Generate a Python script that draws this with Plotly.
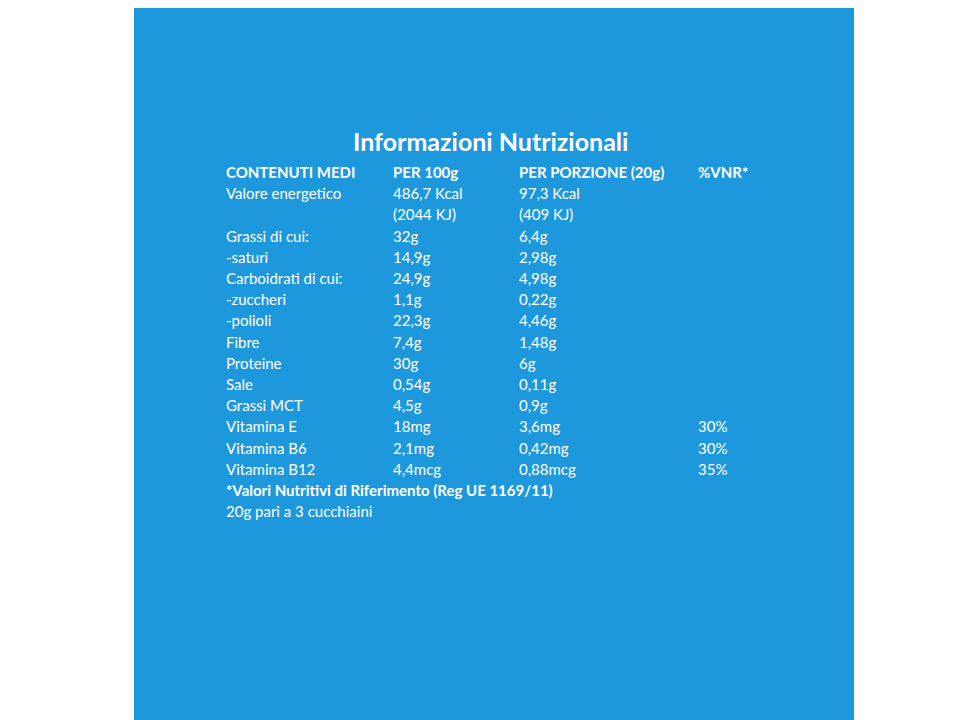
import plotly.graph_objects as go

title = "Informazioni Nutrizionali"
header = ["CONTENUTI MEDI", "PER 100g", "PER PORZIONE (20g)", "%VNR*"]
nutrients = ["Valore energetico", "", "Grassi di cui:", "-saturi", "Carboidrati di cui:", "-zuccheri",
             "-polioli", "Fibre", "Proteine", "Sale", "Grassi MCT", "Vitamina E", "Vitamina B6", "Vitamina B12"]
per100 = ["486,7 Kcal", "(2044 KJ)", "32g", "14,9g", "24,9g", "1,1g", "22,3g", "7,4g", "30g", "0,54g",
          "4,5g", "18mg", "2,1mg", "4,4mcg"]
perPortion = ["97,3 Kcal", "(409 KJ)", "6,4g", "2,98g", "4,98g", "0,22g", "4,46g", "1,48g", "6g", "0,11g",
              "0,9g", "3,6mg", "0,42mg", "0,88mcg"]
vnr = ["", "", "", "", "", "", "", "", "", "", "", "30%", "30%", "35%"]
footer_bold = "*Valori Nutritivi di Riferimento (Reg UE 1169/11)"
footer = "20g pari a 3 cucchiaini"

FONT = "Lato"
colx = [224, 391, 517, 696]
y0, dy = 172, 21.2
fig = go.Figure()
fig.add_shape(type="rect", x0=134, x1=854, y0=0, y1=740, fillcolor="#1E98DC", line_width=0, layer="below")
ann = []
def add(x, y, t, bold=False, size=15, anchor="left"):
    ann.append(dict(x=x, y=y, text=f"<b>{t}</b>" if bold else t, showarrow=False, xanchor=anchor,
                    yanchor="middle", font=dict(family=FONT, size=size, color="white")))
add(490, 141, title, True, 25, "center")
for c, h in zip(colx, header):
    add(c, y0, h, True)
for i in range(len(nutrients)):
    y = y0 + dy * (i + 1)
    for c, col in zip(colx, [nutrients, per100, perPortion, vnr]):
        if col[i]:
            add(c, y, col[i])
n = len(nutrients)
add(colx[0], y0 + dy * (n + 1), footer_bold, True)
add(colx[0], y0 + dy * (n + 2), footer)
fig.update_layout(width=960, height=720, margin=dict(l=0, r=0, t=0, b=0), annotations=ann,
                  paper_bgcolor="white", plot_bgcolor="white",
                  xaxis=dict(range=[8, 968], visible=False, fixedrange=True),
                  yaxis=dict(range=[728, 8], visible=False, fixedrange=True), showlegend=False)
fig.write_html("out.html")
